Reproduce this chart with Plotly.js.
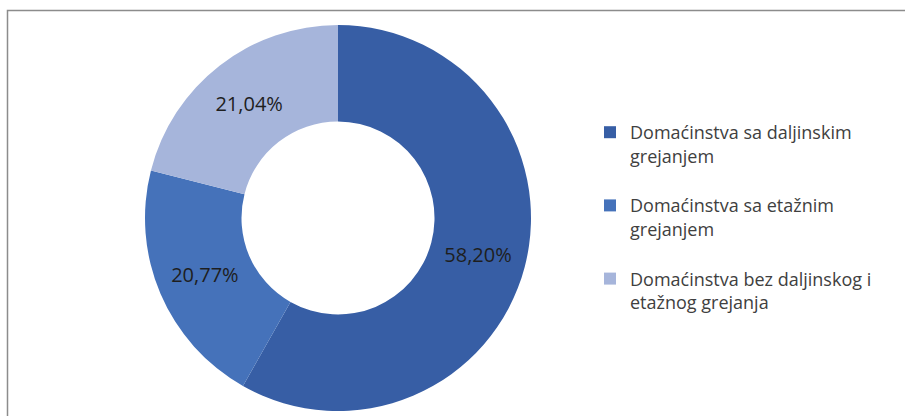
<!DOCTYPE html>
<html>
<head>
<meta charset="utf-8">
<script src="https://cdn.plot.ly/plotly-3.0.1.min.js"></script>
<style>
  html, body { margin: 0; padding: 0; background: #ffffff; }
  #chart { width: 905px; height: 416px; }
</style>
</head>
<body>
<div id="chart"></div>
<script>
const categories = [
  "Domaćinstva sa daljinskim<br>grejanjem<br> ",
  "Domaćinstva sa etažnim<br>grejanjem<br> ",
  "Domaćinstva bez daljinskog i<br>etažnog grejanja"
];
const values = [58.20, 20.77, 21.04];
const valueLabels = ["58,20%", "20,77%", "21,04%"];
const sliceColors = ["#375EA5", "#4572BA", "#A6B5DB"];

const W = 905, H = 416;

const trace = {
  type: "pie",
  labels: categories,
  values: values,
  text: valueLabels,
  textinfo: "text",
  textposition: "inside",
  insidetextorientation: "horizontal",
  hole: 0.5,
  sort: false,
  direction: "clockwise",
  rotation: 0,
  marker: { colors: sliceColors, line: { width: 0 } },
  textfont: { family: "'Open Sans', sans-serif", size: 20, color: "#1e1e1e" },
  domain: { x: [145 / W, 531 / W], y: [1 - 411 / H, 1 - 25 / H] },
  hoverinfo: "label+text"
};

const layout = {
  width: W,
  height: H,
  margin: { l: 0, r: 0, t: 0, b: 0 },
  paper_bgcolor: "#ffffff",
  showlegend: true,
  legend: {
    x: 590 / W,
    y: 1 - 114 / H,
    xanchor: "left",
    yanchor: "top",
    valign: "top",
    font: { family: "'Open Sans', sans-serif", size: 18, color: "#404040" },
    bgcolor: "rgba(0,0,0,0)"
  },
  shapes: [
    {
      type: "path",
      xref: "paper", yref: "paper",
      path: "M " + (7.5 / W) + ",-0.05 L " + (7.5 / W) + "," + (1 - 10.5 / H) + " L 1.05," + (1 - 10.5 / H),
      line: { color: "#8c8c8c", width: 1.5 }
    }
  ]
};

Plotly.newPlot("chart", [trace], layout, { displayModeBar: false, staticPlot: true });
</script>
</body>
</html>
